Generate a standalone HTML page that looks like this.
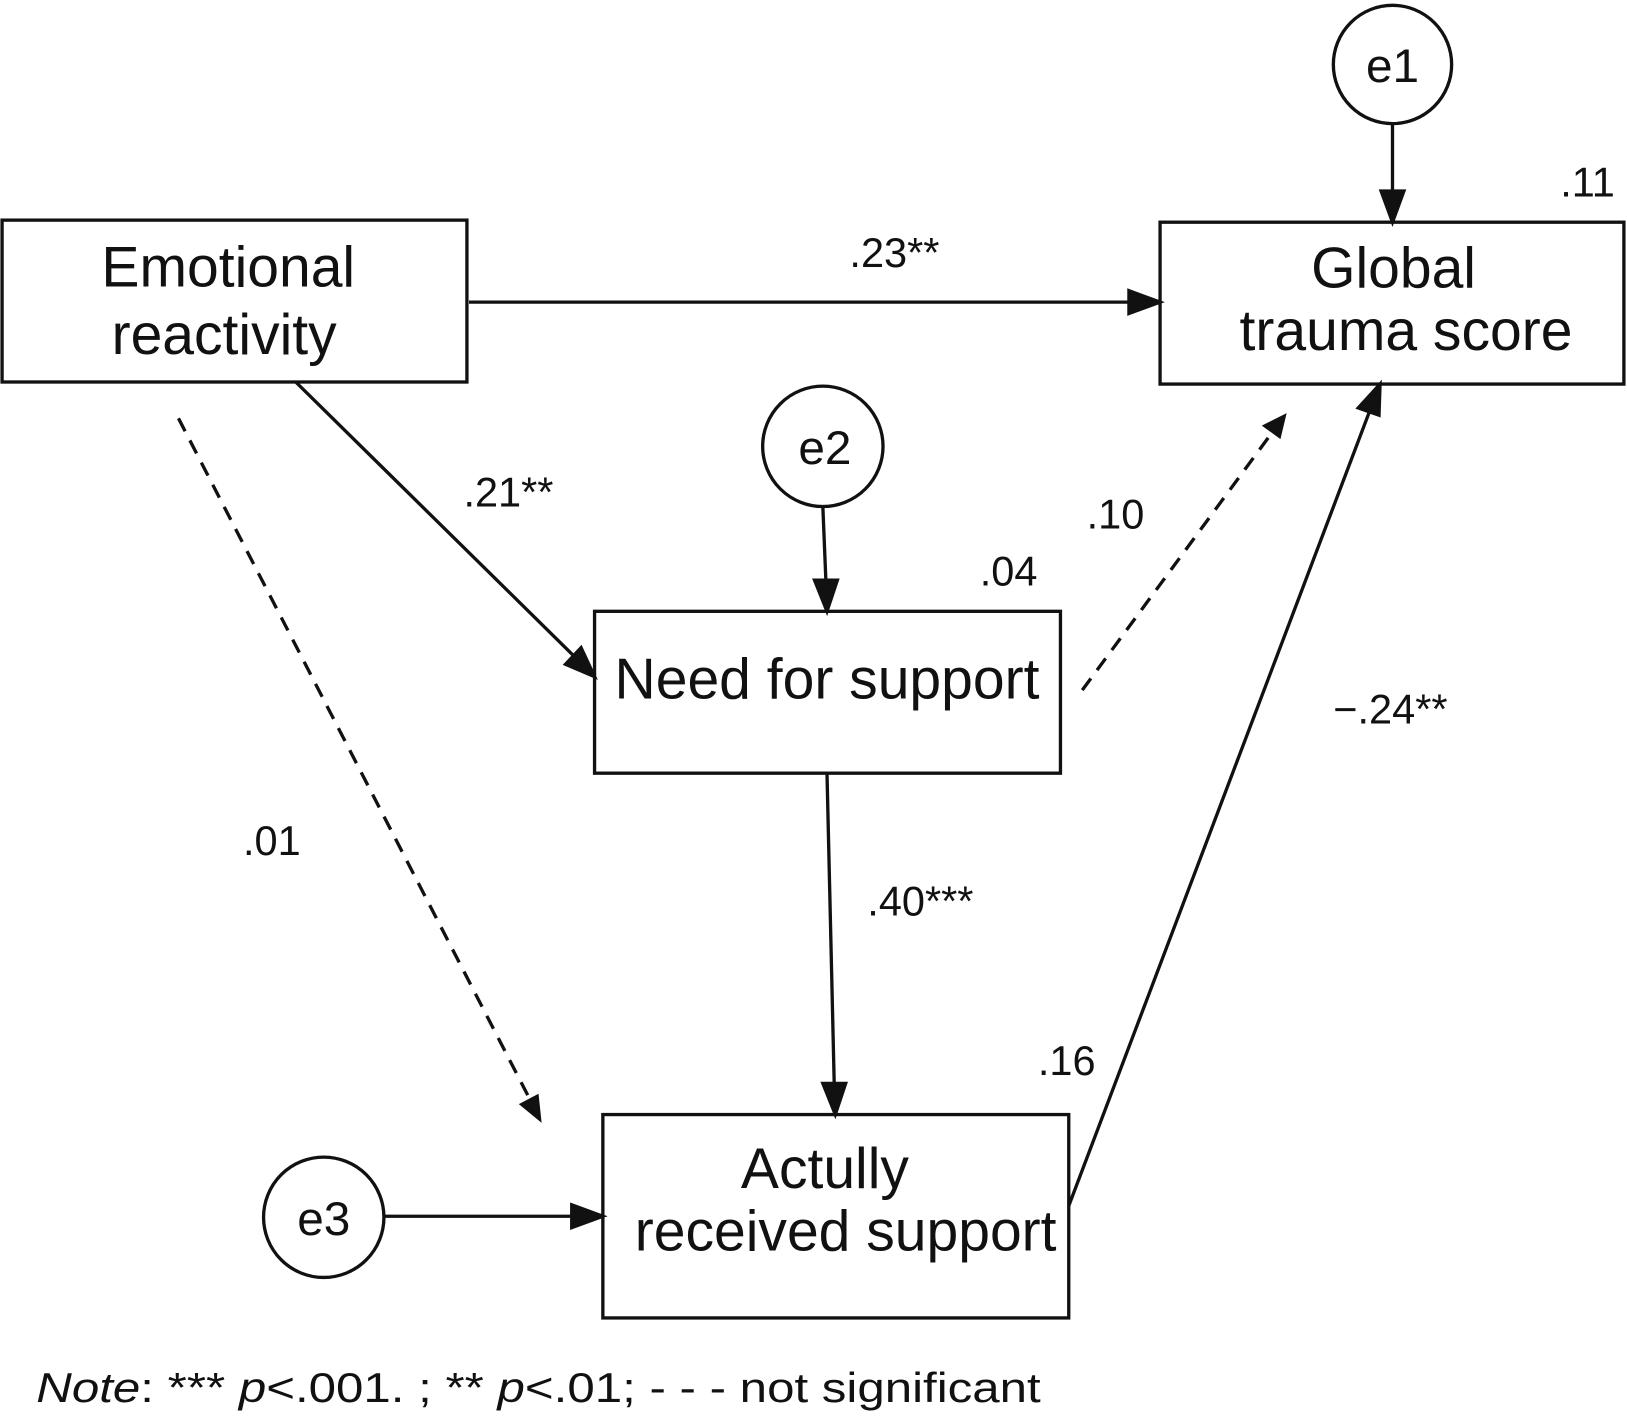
<!DOCTYPE html>
<html><head><style>html,body{margin:0;padding:0;background:#fff;}svg{display:block}</style></head>
<body>
<svg width="1627" height="1426" viewBox="0 0 1568 1374" xmlns="http://www.w3.org/2000/svg" font-family="Liberation Sans, sans-serif" fill="#111">
<g stroke="#111" stroke-width="3.2" fill="none">
<rect x="2" y="212" width="448" height="156"/>
<rect x="1118" y="214" width="447" height="156"/>
<rect x="573" y="589" width="449" height="156"/>
<rect x="581" y="1074" width="449" height="196"/>
<circle cx="1342" cy="62" r="57"/>
<circle cx="793" cy="430" r="58"/>
<circle cx="312" cy="1173" r="58"/>
</g>
<g stroke="#111" stroke-width="3.2" fill="#111">
<line x1="1342" y1="119" x2="1342" y2="186"/><path d="M1331,184 L1353,184 L1342,214 Z"/>
<line x1="452" y1="291" x2="1090" y2="291"/><path d="M1088,280 L1118,291 L1088,302 Z"/>
<line x1="793" y1="488" x2="796" y2="561"/><path d="M785,559 L807,559 L797,589 Z"/>
<line x1="797" y1="745" x2="804" y2="1046"/><path d="M793,1044 L815,1044 L805,1074 Z"/>
<line x1="370" y1="1172" x2="553" y2="1172"/><path d="M551,1161 L581,1172 L551,1183 Z"/>
<line x1="285" y1="368" x2="553" y2="632"/><path d="M545,640 L560,624 L573,652 Z"/>
<line x1="1030" y1="1162" x2="1320" y2="396"/><path d="M1309,393 L1329,400 L1330,370 Z"/>
</g>
<g stroke="#111" stroke-width="3.2" stroke-dasharray="14,10" fill="none">
<line x1="1043" y1="665" x2="1225" y2="418"/>
<line x1="172" y1="403" x2="510" y2="1058"/>
</g>
<g fill="#111">
<path d="M1216,410 L1234,423 L1240,398 Z"/>
<path d="M500,1064 L519,1054 L522,1082 Z"/>
</g>
<g font-size="55" text-anchor="middle">
<text x="220" y="276">Emotional</text>
<text x="216" y="341">reactivity</text>
<text x="1343" y="277">Global</text>
<text x="1355" y="337">trauma score</text>
<text x="797" y="673">Need for support</text>
<text x="795" y="1145">Actully</text>
<text x="815" y="1205">received support</text>
<text x="1342" y="79" font-size="46">e1</text>
<text x="795" y="447" font-size="46">e2</text>
<text x="312" y="1190" font-size="46">e3</text>
</g>
<g font-size="40" text-anchor="middle">
<text x="1530" y="189">.11</text>
<text x="862" y="257">.23**</text>
<text x="490" y="488">.21**</text>
<text x="972" y="564">.04</text>
<text x="1075" y="509">.10</text>
<text x="1340" y="697">−.24**</text>
<text x="887" y="882">.40***</text>
<text x="262" y="824">.01</text>
<text x="1028" y="1036">.16</text>
</g>
<text x="35" y="1351" font-size="40" textLength="968" lengthAdjust="spacingAndGlyphs"><tspan font-style="italic">Note</tspan>: *** <tspan font-style="italic">p</tspan>&lt;.001. ; ** <tspan font-style="italic">p</tspan>&lt;.01; - - - not significant</text>
</svg>
</body></html>
